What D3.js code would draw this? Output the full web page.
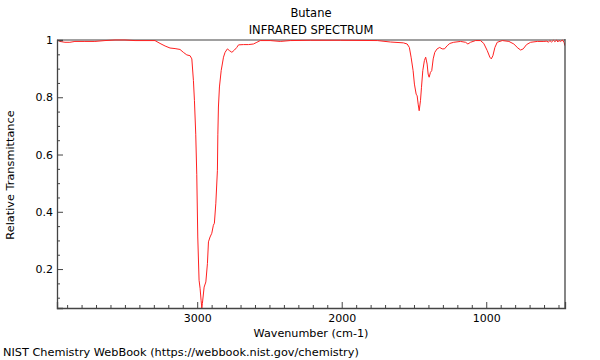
<!DOCTYPE html>
<html>
<head>
<meta charset="utf-8">
<script src="https://cdn.jsdelivr.net/npm/d3@7"></script>
<style>
  html, body { margin: 0; padding: 0; background: #fff; }
  svg { display: block; font-family: "DejaVu Sans", sans-serif; }
</style>
</head>
<body>
<svg id="chart" width="600" height="360"></svg>
<script>
// ---- data ----
const titleText = "Butane";
const subtitleText = "INFRARED SPECTRUM";
const xLabelText = "Wavenumber (cm-1)";
const yLabelText = "Relative Transmittance";
const footerText = "NIST Chemistry WebBook (https://webbook.nist.gov/chemistry)";

const xDomain = [3970, 455];
const yDomain = [0.064, 1.0];
const xMajorTicks = [3000, 2000, 1000];
const yMajorTicks = [0.2, 0.4, 0.6, 0.8, 1];
const yTickLabels = ["0.2", "0.4", "0.6", "0.8", "1"];

const wavenumber = [
  3966, 3950, 3915, 3881, 3846, 3777, 3708, 3638, 3569, 3500,
  3430, 3361, 3292, 3257, 3222, 3188, 3153, 3119, 3096, 3072,
  3049, 3037, 3026, 3019, 3010, 3003, 2996, 2987, 2980, 2973,
  2968, 2964, 2952, 2940, 2929, 2922, 2911, 2899, 2888, 2881,
  2871, 2860, 2857, 2853, 2846, 2834, 2818, 2807, 2791, 2777,
  2760, 2742, 2726, 2714, 2680, 2645, 2611, 2587, 2564, 2495,
  2425, 2356, 2218, 2010, 1753, 1663, 1573, 1547, 1532, 1520,
  1506, 1497, 1485, 1478, 1471, 1464, 1455, 1448, 1439, 1428,
  1419, 1409, 1402, 1395, 1386, 1377, 1367, 1356, 1340, 1322,
  1305, 1289, 1270, 1252, 1225, 1178, 1143, 1127, 1109, 1074,
  1040, 1017, 993, 975, 965, 954, 940, 924, 889, 843,
  809, 781, 762, 744, 721, 693, 647, 601, 580, 570,
  560, 548, 535, 525, 512, 505, 497, 485, 473, 462,
  455
];
const transmittance = [
  1.000, 0.995, 0.992, 0.992, 0.995, 0.995, 0.995, 0.998, 1.000, 1.000,
  0.998, 0.998, 0.998, 0.988, 0.979, 0.972, 0.970, 0.967, 0.957, 0.948,
  0.945, 0.934, 0.858, 0.788, 0.671, 0.531, 0.312, 0.161, 0.133, 0.091,
  0.064, 0.080, 0.137, 0.155, 0.220, 0.295, 0.312, 0.325, 0.353, 0.360,
  0.430, 0.545, 0.671, 0.766, 0.836, 0.893, 0.940, 0.957, 0.969, 0.963,
  0.957, 0.965, 0.974, 0.983, 0.984, 0.984, 0.986, 0.992, 0.998, 0.998,
  0.995, 0.998, 0.999, 0.999, 0.998, 0.993, 0.990, 0.986, 0.974, 0.940,
  0.893, 0.846, 0.811, 0.805, 0.776, 0.753, 0.788, 0.835, 0.893, 0.928,
  0.940, 0.916, 0.881, 0.870, 0.887, 0.893, 0.934, 0.957, 0.969, 0.974,
  0.969, 0.969, 0.980, 0.988, 0.992, 0.995, 0.992, 0.986, 0.992, 0.998,
  0.998, 0.988, 0.963, 0.940, 0.934, 0.945, 0.974, 0.992, 0.998, 0.995,
  0.986, 0.972, 0.965, 0.969, 0.984, 0.992, 0.995, 0.995, 0.996, 0.992,
  0.998, 0.993, 0.999, 0.994, 1.000, 0.993, 0.998, 0.995, 1.000, 0.992,
  0.980
];

// ---- layout ----
const svg = d3.select("#chart");
const mLeft = 57, mRight = 565, mTop = 40, mBottom = 308;

const x = d3.scaleLinear().domain(xDomain).range([mLeft, mRight]);
const y = d3.scaleLinear().domain(yDomain).range([mBottom, mTop]);

const points = wavenumber.map((w, i) => ({ w, t: transmittance[i] }));

svg.append("defs").append("clipPath").attr("id", "clip")
  .append("rect").attr("x", mLeft).attr("y", mTop - 1)
  .attr("width", mRight - mLeft).attr("height", mBottom - mTop + 1);

// top border (gray)
svg.append("line")
  .attr("x1", mLeft).attr("x2", mRight).attr("y1", mTop).attr("y2", mTop)
  .attr("stroke", "#a0a0a0").attr("stroke-width", 2);

// spectrum
const line = d3.line().x(d => x(d.w)).y(d => y(d.t)).curve(d3.curveLinear);
svg.append("path")
  .datum(points)
  .attr("clip-path", "url(#clip)")
  .attr("fill", "none")
  .attr("stroke", "#ff2020")
  .attr("stroke-width", 1)
  .attr("d", line);

const axisColor = "#444";
const xMinor = d3.range(3900, 455, -100).filter(v => !xMajorTicks.includes(v));
const yMinor = d3.range(0.1, 1.0, 0.05).map(v => +v.toFixed(2))
  .filter(v => !yMajorTicks.some(m => Math.abs(m - v) < 1e-6) && v >= yDomain[0]);

// bottom axis
const gx = svg.append("g").attr("transform", `translate(0,${mBottom})`);
gx.call(d3.axisBottom(x).tickValues(xMajorTicks).tickSize(-6).tickPadding(6).tickFormat(d3.format("d")));
const gxMinor = gx.append("g").call(d3.axisBottom(x).tickValues(xMinor).tickSize(-3).tickFormat(""));
gxMinor.select(".domain").remove();
gx.selectAll(".domain").attr("stroke", axisColor).attr("stroke-width", 1.3);
gx.selectAll(".tick line").attr("stroke", axisColor);
gx.selectAll("text").attr("font-size", 11).attr("fill", "#000").attr("font-family", "DejaVu Sans, sans-serif");

// left axis
const gy = svg.append("g").attr("transform", `translate(${mLeft},0)`);
gy.call(d3.axisLeft(y).tickValues(yMajorTicks).tickSize(-6).tickPadding(4)
  .tickFormat((d, i) => yTickLabels[i]));
const gyMinor = gy.append("g").call(d3.axisLeft(y).tickValues(yMinor).tickSize(-3).tickFormat(""));
gyMinor.select(".domain").remove();
gy.selectAll(".domain").attr("stroke", axisColor).attr("stroke-width", 1.3);
gy.selectAll(".tick line").attr("stroke", axisColor);
gy.selectAll("text").attr("font-size", 11).attr("fill", "#000").attr("font-family", "DejaVu Sans, sans-serif");

// right axis line
svg.append("line")
  .attr("x1", mRight).attr("x2", mRight).attr("y1", mTop - 1).attr("y2", mBottom)
  .attr("stroke", axisColor).attr("stroke-width", 1.3);

// texts
svg.append("text").attr("x", 311).attr("y", 17).attr("text-anchor", "middle")
  .attr("font-size", 11.5).text(titleText);
svg.append("text").attr("x", 311).attr("y", 34).attr("text-anchor", "middle")
  .attr("font-size", 11.5).text(subtitleText);
svg.append("text").attr("x", 311).attr("y", 337).attr("text-anchor", "middle")
  .attr("font-size", 11.2).text(xLabelText);
svg.append("text").attr("transform", "translate(14,175) rotate(-90)").attr("text-anchor", "middle")
  .attr("font-size", 11.3).text(yLabelText);
svg.append("text").attr("x", 3).attr("y", 356).attr("text-anchor", "start")
  .attr("font-size", 11.3).text(footerText);
</script>
</body>
</html>
